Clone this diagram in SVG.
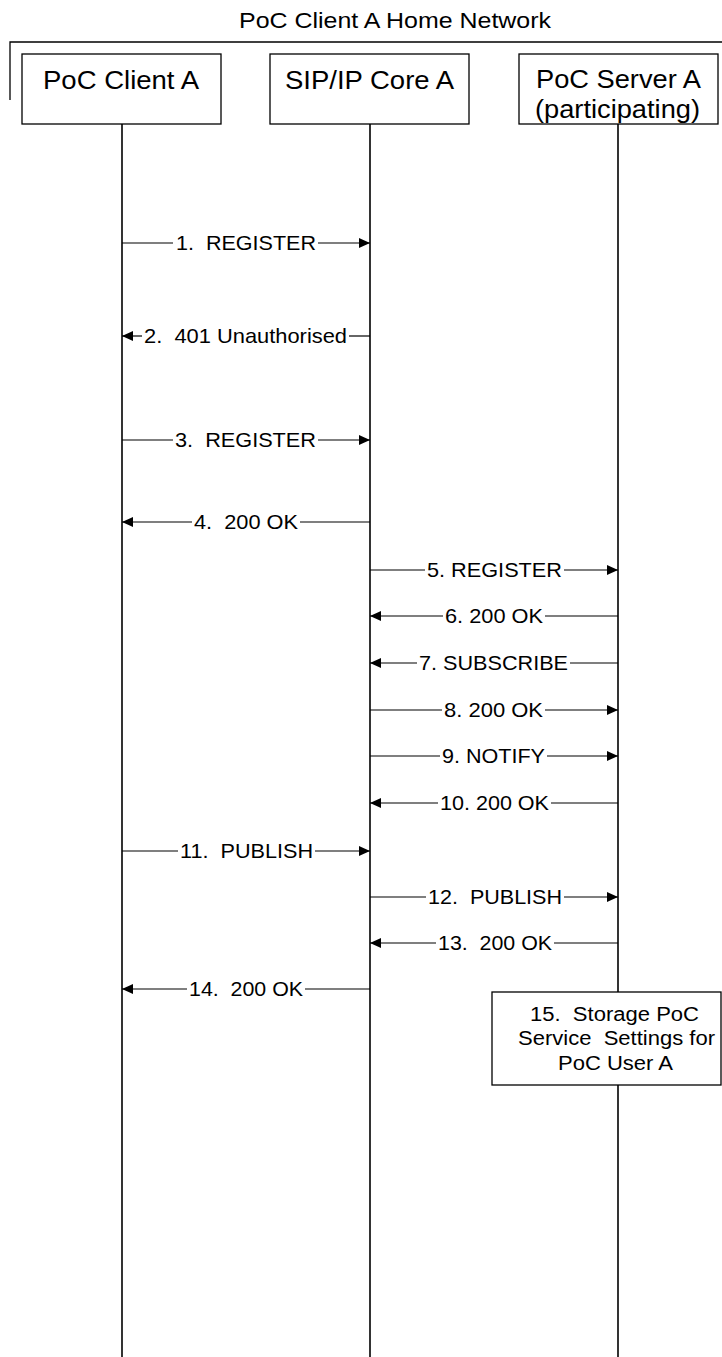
<svg xmlns="http://www.w3.org/2000/svg" width="722" height="1357" viewBox="0 0 722 1357">
<style>
text{font-family:"Liberation Sans",Arial,sans-serif;fill:#000;white-space:pre}
.hdr{font-size:22px}
.ent{font-size:26px}
.msg{font-size:21px}
.note{font-size:20px}
.box{fill:#fff;stroke:#000;stroke-width:1.3}
.life{stroke:#000;stroke-width:1.6;fill:none}
.ln{stroke:#000;stroke-width:1.2;fill:none}
.frame{stroke:#000;stroke-width:1.3;fill:none}
</style>
<defs>
<marker id="ah" markerUnits="userSpaceOnUse" markerWidth="11" markerHeight="10" refX="11" refY="5" orient="auto" viewBox="0 0 11 10">
<path d="M0,0 L11,5 L0,10 Z" fill="#000"/>
</marker>
</defs>
<g id="frame">
<text class="hdr" x="239" y="28" textLength="312" lengthAdjust="spacingAndGlyphs">PoC Client A Home Network</text>
<path class="frame" d="M10,100 V42 H722"/>
</g>
<g id="lifelines">
<line class="life" x1="122" y1="124" x2="122" y2="1357"/>
<line class="life" x1="370" y1="124" x2="370" y2="1357"/>
<line class="life" x1="618" y1="124" x2="618" y2="1357"/>
</g>
<g id="clientA">
<rect class="box" x="22" y="54" width="199" height="70"/>
<text class="ent" x="43" y="89" textLength="156" lengthAdjust="spacingAndGlyphs">PoC Client A</text>
</g>
<g id="sipCoreA">
<rect class="box" x="270" y="54" width="199" height="70"/>
<text class="ent" x="285" y="89" textLength="169" lengthAdjust="spacingAndGlyphs">SIP/IP Core A</text>
</g>
<g id="serverA">
<rect class="box" x="519" y="54" width="199" height="70"/>
<text class="ent" x="536" y="88" textLength="165" lengthAdjust="spacingAndGlyphs">PoC Server A</text>
<text class="ent" x="535" y="118" textLength="165" lengthAdjust="spacingAndGlyphs">(participating)</text>
</g>
<g id="connectors">
<line class="ln" x1="122" y1="243" x2="173" y2="243"/><line class="ln" x1="318" y1="243" x2="370" y2="243" marker-end="url(#ah)"/>
<line class="ln" x1="370" y1="336" x2="349" y2="336"/><line class="ln" x1="142" y1="336" x2="122" y2="336" marker-end="url(#ah)"/>
<line class="ln" x1="122" y1="440" x2="173" y2="440"/><line class="ln" x1="318" y1="440" x2="370" y2="440" marker-end="url(#ah)"/>
<line class="ln" x1="370" y1="522" x2="300" y2="522"/><line class="ln" x1="192" y1="522" x2="122" y2="522" marker-end="url(#ah)"/>
<line class="ln" x1="370" y1="570" x2="425" y2="570"/><line class="ln" x1="564" y1="570" x2="618" y2="570" marker-end="url(#ah)"/>
<line class="ln" x1="618" y1="616" x2="545" y2="616"/><line class="ln" x1="443" y1="616" x2="370" y2="616" marker-end="url(#ah)"/>
<line class="ln" x1="618" y1="663" x2="570" y2="663"/><line class="ln" x1="417" y1="663" x2="370" y2="663" marker-end="url(#ah)"/>
<line class="ln" x1="370" y1="710" x2="442" y2="710"/><line class="ln" x1="545" y1="710" x2="618" y2="710" marker-end="url(#ah)"/>
<line class="ln" x1="370" y1="756" x2="440" y2="756"/><line class="ln" x1="547" y1="756" x2="618" y2="756" marker-end="url(#ah)"/>
<line class="ln" x1="618" y1="803" x2="551" y2="803"/><line class="ln" x1="438" y1="803" x2="370" y2="803" marker-end="url(#ah)"/>
<line class="ln" x1="122" y1="851" x2="178" y2="851"/><line class="ln" x1="315" y1="851" x2="370" y2="851" marker-end="url(#ah)"/>
<line class="ln" x1="370" y1="897" x2="426" y2="897"/><line class="ln" x1="564" y1="897" x2="618" y2="897" marker-end="url(#ah)"/>
<line class="ln" x1="618" y1="943" x2="554" y2="943"/><line class="ln" x1="436" y1="943" x2="370" y2="943" marker-end="url(#ah)"/>
<line class="ln" x1="370" y1="989" x2="305" y2="989"/><line class="ln" x1="187" y1="989" x2="122" y2="989" marker-end="url(#ah)"/>
</g>
<g id="labels">
<text class="msg" x="176" y="250" textLength="140" lengthAdjust="spacingAndGlyphs">1.  REGISTER</text>
<text class="msg" x="144" y="343" textLength="203" lengthAdjust="spacingAndGlyphs">2.  401 Unauthorised</text>
<text class="msg" x="175" y="447" textLength="141" lengthAdjust="spacingAndGlyphs">3.  REGISTER</text>
<text class="msg" x="194" y="529" textLength="104" lengthAdjust="spacingAndGlyphs">4.  200 OK</text>
<text class="msg" x="427" y="577" textLength="135" lengthAdjust="spacingAndGlyphs">5. REGISTER</text>
<text class="msg" x="445" y="623" textLength="98" lengthAdjust="spacingAndGlyphs">6. 200 OK</text>
<text class="msg" x="419" y="670" textLength="149" lengthAdjust="spacingAndGlyphs">7. SUBSCRIBE</text>
<text class="msg" x="444" y="717" textLength="99" lengthAdjust="spacingAndGlyphs">8. 200 OK</text>
<text class="msg" x="442" y="763" textLength="103" lengthAdjust="spacingAndGlyphs">9. NOTIFY</text>
<text class="msg" x="440" y="810" textLength="109" lengthAdjust="spacingAndGlyphs">10. 200 OK</text>
<text class="msg" x="180" y="858" textLength="133" lengthAdjust="spacingAndGlyphs">11.  PUBLISH</text>
<text class="msg" x="428" y="904" textLength="134" lengthAdjust="spacingAndGlyphs">12.  PUBLISH</text>
<text class="msg" x="438" y="950" textLength="114" lengthAdjust="spacingAndGlyphs">13.  200 OK</text>
<text class="msg" x="189" y="996" textLength="114" lengthAdjust="spacingAndGlyphs">14.  200 OK</text>
</g>
<g id="step15">
<rect class="box" x="492" y="992" width="229" height="93"/>
<text class="note" x="530" y="1021" textLength="169" lengthAdjust="spacingAndGlyphs">15.  Storage PoC</text>
<text class="note" x="518" y="1045" textLength="197" lengthAdjust="spacingAndGlyphs">Service  Settings for</text>
<text class="note" x="558" y="1070" textLength="115" lengthAdjust="spacingAndGlyphs">PoC User A</text>
</g>
</svg>
